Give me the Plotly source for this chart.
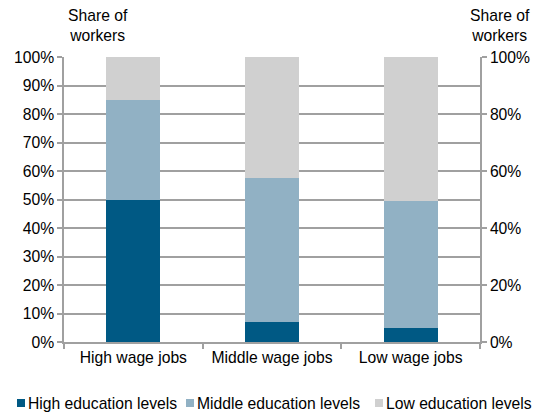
import plotly.graph_objects as go

categories = ["High wage jobs", "Middle wage jobs", "Low wage jobs"]
high_edu = [0.50, 0.07, 0.05]
middle_edu = [0.35, 0.505, 0.445]
low_edu = [0.15, 0.425, 0.505]

series_names = ["High education levels", "Middle education levels", "Low education levels"]
series_colors = ["#005984", "#91B1C4", "#D0D0D0"]
left_ticks = [i / 10 for i in range(11)]
right_ticks = [i / 5 for i in range(6)]

font = dict(family="Liberation Sans, Arial, sans-serif", size=15.7, color="#000000")
grid = "#A0A0A0"

# plot area in pixels
W, H = 537, 412
L, R, T, B = 64, 57, 57, 70
pw, ph = W - L - R, H - T - B


def px_x(x):
    return (x - L) / pw


def px_y(y):
    return (H - B - y) / ph


fig = go.Figure()
for name, vals, col in zip(series_names, [high_edu, middle_edu, low_edu], series_colors):
    fig.add_trace(go.Bar(x=categories, y=vals, name=name, showlegend=False,
                         marker=dict(color=col, line=dict(width=0))))

# invisible trace to carry the right-hand axis
fig.add_trace(go.Scatter(x=categories, y=[0, 0, 0], yaxis="y2", mode="markers",
                         marker=dict(opacity=0), showlegend=False, hoverinfo="skip"))

axis_common = dict(showline=True, linecolor=grid, linewidth=1.5, ticks="outside",
                   tickcolor=grid, ticklen=5, tickwidth=1.5, tickfont=font,
                   automargin=False)

fig.update_layout(
    width=W, height=H,
    margin=dict(l=L, r=R, t=T, b=B),
    paper_bgcolor="white", plot_bgcolor="white",
    barmode="stack", bargap=0.61,
    font=font, showlegend=False,
    xaxis=dict(tickson="boundaries", showgrid=False, **axis_common),
    yaxis=dict(range=[0, 1], tickvals=left_ticks, tickformat=".0%",
               showgrid=True, gridcolor=grid, gridwidth=1.5, zeroline=False, **axis_common),
    yaxis2=dict(range=[0, 1], tickvals=right_ticks, tickformat=".0%", overlaying="y",
                side="right", showgrid=False, zeroline=False, **axis_common),
)

annotations = [
    dict(text="Share of<br>workers", x=px_x(98), y=px_y(46), xref="paper", yref="paper",
         xanchor="center", yanchor="bottom", showarrow=False, font=font),
    dict(text="Share of<br>workers", x=px_x(500), y=px_y(46), xref="paper", yref="paper",
         xanchor="center", yanchor="bottom", showarrow=False, font=font),
]
shapes = []

# legend row along the bottom
legend_x = [17, 186, 375]
legend_y = 403
sq = 8
for name, col, lx in zip(series_names, series_colors, legend_x):
    shapes.append(dict(type="rect", xref="paper", yref="paper",
                       x0=px_x(lx), x1=px_x(lx + sq),
                       y0=px_y(legend_y + sq / 2), y1=px_y(legend_y - sq / 2),
                       fillcolor=col, line=dict(width=0)))
    annotations.append(dict(text=name, x=px_x(lx + sq + 1), y=px_y(legend_y),
                            xref="paper", yref="paper", xanchor="left", yanchor="middle",
                            showarrow=False, font=font))

fig.update_layout(annotations=annotations, shapes=shapes)

fig.write_html("out.html")
